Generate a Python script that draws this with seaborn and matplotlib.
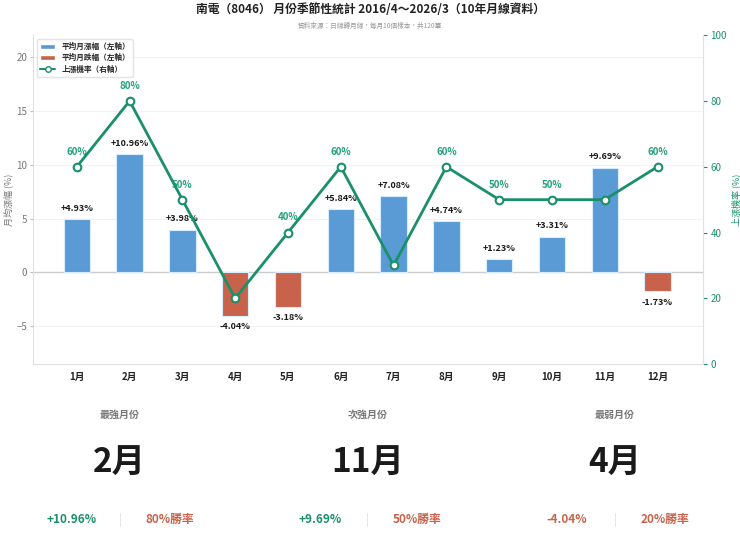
import numpy as np
import pandas as pd
import matplotlib
matplotlib.use('Agg')
import matplotlib.pyplot as plt
import seaborn as sns
from matplotlib.patches import Patch
from matplotlib.lines import Line2D

months = ['1月', '2月', '3月', '4月', '5月', '6月', '7月', '8月', '9月', '10月', '11月', '12月']
avg_ret = [4.93, 10.96, 3.98, -4.04, -3.18, 5.84, 7.08, 4.74, 1.23, 3.31, 9.69, -1.73]
up_prob = [60, 80, 50, 20, 40, 60, 30, 60, 50, 50, 50, 60]

card_titles = ['最強月份', '次強月份', '最弱月份']
card_months = ['2月', '11月', '4月']
card_rets = ['+10.96%', '+9.69%', '-4.04%']
card_wins = ['80%勝率', '50%勝率', '20%勝率']

BLUE = '#5b9bd5'
RED = '#c8624a'
GREEN = '#1a9068'
GRAY = '#777777'

sns.set_style('white')
plt.rcParams['font.family'] = ['Noto Sans CJK TC', 'DejaVu Sans']
plt.rcParams['axes.unicode_minus'] = True

df = pd.DataFrame({'month': months, 'ret': avg_ret, 'prob': up_prob})
df['sign'] = np.where(df['ret'] >= 0, 'up', 'down')

fig = plt.figure(figsize=(7.4, 5.5), dpi=100)
ax = fig.add_axes([0.0446, 0.338, 0.906, 0.598])

sns.barplot(data=df, x='month', y='ret', hue='sign', palette={'up': BLUE, 'down': RED},
            dodge=False, width=0.5, legend=False, ax=ax, zorder=2, saturation=1,
            edgecolor='#d6ecff', linewidth=0.8)
ax.set_ylim(-8.5, 22)
ax.set_xlim(-0.83, 11.87)
ax.set_yticks([-5, 0, 5, 10, 15, 20])
ax.axhline(0, color='#cccccc', linewidth=1, zorder=1)
ax.grid(axis='y', color='#f2f2f2', linewidth=0.8)
ax.set_axisbelow(True)
ax.set_xlabel('')
ax.set_ylabel('月均漲幅 (%)', fontsize=6.5, color=GRAY, labelpad=2)
ax.tick_params(axis='y', labelsize=7, labelcolor=GRAY, length=2, color='#bbbbbb', pad=2)
ax.tick_params(axis='x', labelsize=7, length=0, pad=6)
for lbl in ax.get_xticklabels():
    lbl.set_fontweight('bold')
    lbl.set_color('#222222')
for s in ['top', 'right']:
    ax.spines[s].set_visible(False)
for s in ['left', 'bottom']:
    ax.spines[s].set_color('#e0e0e0')

for i, v in enumerate(avg_ret):
    txt = f'{v:+.2f}%'
    if v >= 0:
        ax.text(i, v + 0.6, txt, ha='center', va='bottom', fontsize=6.5,
                fontweight='bold', color='#1a1a1a', zorder=5)
    else:
        ax.text(i, v - 0.6, txt, ha='center', va='top', fontsize=6.5,
                fontweight='bold', color='#1a1a1a', zorder=5)

ax2 = ax.twinx()
sns.lineplot(x=np.arange(len(months)), y=up_prob, ax=ax2, color=GREEN, linewidth=2,
             marker='o', markersize=5.5, markerfacecolor='white',
             markeredgecolor=GREEN, markeredgewidth=1.5)
ax2.set_ylim(0, 100)
ax2.set_yticks([0, 20, 40, 60, 80, 100])
ax2.set_ylabel('上漲機率 (%)', fontsize=6.5, color=GREEN, labelpad=3)
ax2.tick_params(axis='y', labelsize=7, labelcolor=GREEN, color=GREEN, length=3, pad=2)
for s in ['top', 'left', 'bottom']:
    ax2.spines[s].set_visible(False)
ax2.spines['right'].set_color('#e0e0e0')

for i, p in enumerate(up_prob):
    ax.text(i, p + 4.6, f'{p}%', transform=ax2.transData, ha='center', va='center',
            fontsize=7, fontweight='bold', color='#23a07a', zorder=1.5)

handles = [Patch(facecolor=BLUE, label='平均月漲幅（左軸）'),
           Patch(facecolor=RED, label='平均月跌幅（左軸）'),
           Line2D([0], [0], color=GREEN, linewidth=1.5, marker='o', markersize=4,
                  markerfacecolor='white', markeredgecolor=GREEN, label='上漲機率（右軸）')]
leg = ax2.legend(handles=handles, loc='upper left', fontsize=5.5, frameon=True,
                 bbox_to_anchor=(0.0, 1.0), handlelength=2, borderpad=0.4,
                 labelspacing=0.3, handleheight=0.6)
leg.get_frame().set_edgecolor('#dddddd')
for t in leg.get_texts():
    t.set_fontweight('bold')

fig.text(0.5, 0.982, '南電（8046） 月份季節性統計 2016/4～2026/3（10年月線資料）',
         ha='center', va='center', fontsize=8.5, fontweight='bold', color='#222222')
fig.text(0.5, 0.953, '資料來源：日線轉月線，每月10個樣本，共120筆',
         ha='center', va='center', fontsize=4.8, color='#999999')

centers = [0.162, 0.497, 0.831]
for c, t, m, r, w in zip(centers, card_titles, card_months, card_rets, card_wins):
    fig.text(c, 0.245, t, ha='center', va='center', fontsize=7.2, color=GRAY, fontweight='bold')
    fig.text(c, 0.157, m, ha='center', va='center', fontsize=24, fontweight='bold', color='#1a1a1a')
    fig.text(c - 0.065, 0.055, r, ha='center', va='center', fontsize=8.5, fontweight='bold',
             color=GREEN if r.startswith('+') else RED)
    fig.text(c, 0.055, '|', ha='center', va='center', fontsize=9, color='#e0e0e0')
    fig.text(c + 0.067, 0.055, w, ha='center', va='center', fontsize=8.5, fontweight='bold', color=RED)

fig.savefig('out.png', dpi=100)
